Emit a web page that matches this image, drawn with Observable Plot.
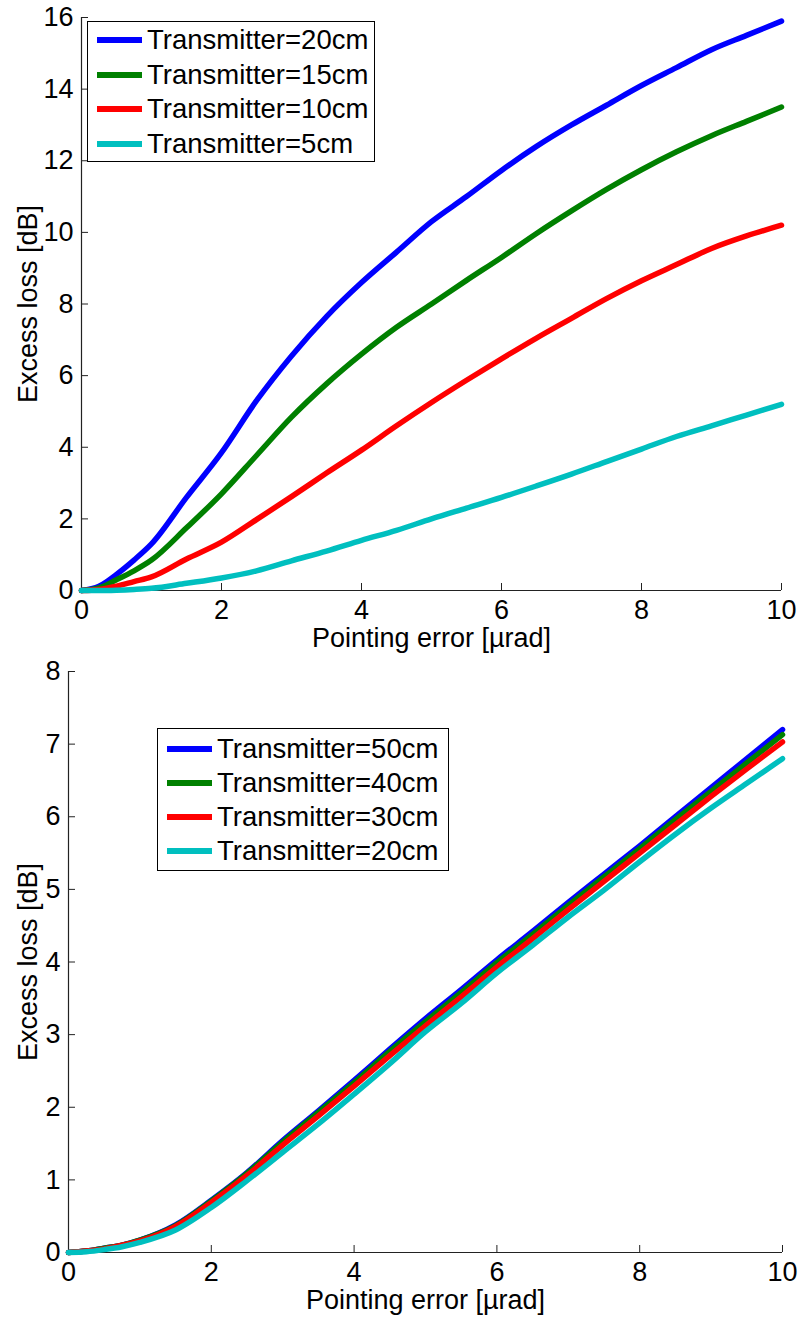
<!DOCTYPE html>
<html>
<head>
<meta charset="utf-8">
<script src="https://cdn.jsdelivr.net/npm/d3@7"></script>
<script src="https://cdn.jsdelivr.net/npm/@observablehq/plot@0.6"></script>
<style>
  body { margin: 0; background: #fff; font-family: "Liberation Sans", Arial, sans-serif; }
  #wrap { position: relative; width: 801px; height: 1318px; }
  .panel { position: absolute; left: 0; }
  .panel svg { overflow: visible; }
  .legend { position: absolute; background: #fff; border: 1.3px solid #000; box-sizing: border-box; }
  .legend .row { position: absolute; left: 0; height: 30px; display: flex; align-items: center; font-size: 27.5px; color: #000; white-space: nowrap; }
  .legend .sw { display: inline-block; width: 45px; height: 6px; margin-left: 9px; margin-right: 5px; }
</style>
</head>
<body>
<div id="wrap"></div>
<script>
// Shared x grid (pointing error, µrad)
const xValues = [0, 0.25, 0.5, 0.75, 1, 1.5, 2, 2.5, 3, 3.5, 4, 4.5, 5, 5.5, 6, 6.5, 7, 7.5, 8, 8.5, 9, 9.5, 10];

// Top panel series (excess loss, dB)
const topNames = ["Transmitter=20cm", "Transmitter=15cm", "Transmitter=10cm", "Transmitter=5cm"];
const top20 = [0, 0.12, 0.45, 0.85, 1.3, 2.6, 3.85, 5.3, 6.55, 7.65, 8.6, 9.45, 10.3, 11.0, 11.73, 12.4, 13.0, 13.55, 14.1, 14.6, 15.1, 15.5, 15.9];
const top15 = [0, 0.07, 0.3, 0.55, 0.85, 1.75, 2.7, 3.77, 4.84, 5.77, 6.6, 7.35, 8.0, 8.66, 9.3, 9.97, 10.6, 11.2, 11.75, 12.25, 12.7, 13.1, 13.5];
const top10 = [0, 0.03, 0.12, 0.25, 0.38, 0.88, 1.35, 1.98, 2.62, 3.28, 3.92, 4.6, 5.25, 5.87, 6.47, 7.05, 7.6, 8.15, 8.65, 9.1, 9.55, 9.9, 10.2];
const top5  = [0, 0, 0.01, 0.03, 0.06, 0.2, 0.35, 0.55, 0.83, 1.1, 1.4, 1.68, 2.0, 2.3, 2.6, 2.92, 3.25, 3.6, 3.95, 4.3, 4.6, 4.9, 5.2];

// Bottom panel series (excess loss, dB)
const botNames = ["Transmitter=50cm", "Transmitter=40cm", "Transmitter=30cm", "Transmitter=20cm"];
const bot50 = [0, 0.02, 0.06, 0.1, 0.17, 0.38, 0.72, 1.1, 1.54, 1.95, 2.37, 2.8, 3.22, 3.62, 4.03, 4.42, 4.82, 5.21, 5.6, 6.0, 6.4, 6.8, 7.2];
const bot40 = [0, 0.02, 0.06, 0.1, 0.17, 0.37, 0.71, 1.09, 1.52, 1.93, 2.34, 2.77, 3.18, 3.58, 3.99, 4.38, 4.78, 5.17, 5.56, 5.96, 6.35, 6.74, 7.13];
const bot30 = [0, 0.02, 0.05, 0.1, 0.16, 0.36, 0.69, 1.06, 1.48, 1.88, 2.29, 2.71, 3.12, 3.52, 3.93, 4.32, 4.72, 5.11, 5.5, 5.89, 6.28, 6.66, 7.03];
const bot20 = [0, 0.01, 0.04, 0.08, 0.14, 0.31, 0.62, 0.99, 1.38, 1.77, 2.18, 2.6, 3.04, 3.43, 3.85, 4.23, 4.62, 4.99, 5.38, 5.76, 6.12, 6.46, 6.8];

const colors = ["#0000ff", "#008000", "#ff0000", "#00bfbf"];
const topTicks = [0, 2, 4, 6, 8, 10, 12, 14, 16];
const botTicks = [0, 1, 2, 3, 4, 5, 6, 7, 8];
const xTicks = [0, 2, 4, 6, 8, 10];

function toRows(names, seriesList) {
  const rows = [];
  seriesList.forEach((s, i) => s.forEach((v, j) => rows.push({series: names[i], x: xValues[j], y: v})));
  return rows;
}

function makePanel(cfg) {
  const rows = toRows(cfg.names, cfg.series);
  const chart = Plot.plot({
    width: 801,
    height: cfg.height,
    marginTop: cfg.mt, marginBottom: cfg.mb, marginLeft: cfg.ml, marginRight: cfg.mr,
    style: {fontFamily: '"Liberation Sans", Arial, sans-serif', fontSize: "27px", color: "#000", background: "#fff", overflow: "visible"},
    x: {domain: [0, 10]},
    y: {domain: cfg.yDomain},
    color: {domain: cfg.names, range: colors},
    marks: [
      Plot.axisX({ticks: xTicks, tickSize: -7, tickPadding: 16, tickFormat: d => String(d), fontSize: 27,
                  label: "Pointing error [µrad]", labelAnchor: "center", labelArrow: "none", labelOffset: 56, stroke: "#222"}),
      Plot.axisY({ticks: cfg.yTicks, tickSize: -7, tickPadding: 15, tickFormat: d => String(d), fontSize: 27,
                  label: "Excess loss [dB]", labelAnchor: "center", labelArrow: "none", labelOffset: cfg.ml - 17, stroke: "#222"}),
      Plot.ruleX([0], {stroke: "#222", strokeWidth: 1.2}),
      Plot.ruleY([cfg.yDomain[0]], {stroke: "#222", strokeWidth: 1.2}),
      Plot.line(rows, {x: "x", y: "y", z: "series", stroke: "series", strokeWidth: 5.5, curve: "monotone-x"})
    ]
  });
  const div = document.createElement("div");
  div.className = "panel";
  div.style.top = cfg.top + "px";
  div.appendChild(chart);
  document.getElementById("wrap").appendChild(div);

  const lg = document.createElement("div");
  lg.className = "legend";
  Object.assign(lg.style, {left: cfg.lg.x + "px", top: (cfg.top + cfg.lg.y) + "px", width: cfg.lg.w + "px", height: cfg.lg.h + "px"});
  cfg.names.forEach((n, i) => {
    const r = document.createElement("div");
    r.className = "row";
    r.style.top = (cfg.lg.first + i * cfg.lg.step - 15) + "px";
    r.innerHTML = `<span class="sw" style="background:${colors[i]}"></span><span>${n}</span>`;
    lg.appendChild(r);
  });
  document.getElementById("wrap").appendChild(lg);
}

makePanel({names: topNames, series: [top20, top15, top10, top5], top: 0, height: 660,
  mt: 17, mb: 70, ml: 81, mr: 20, yDomain: [0, 16], yTicks: topTicks,
  lg: {x: 87, y: 21, w: 288, h: 141, first: 18, step: 34.5}});

makePanel({names: botNames, series: [bot50, bot40, bot30, bot20], top: 660, height: 658,
  mt: 11, mb: 66, ml: 68, mr: 19, yDomain: [0, 8], yTicks: botTicks,
  lg: {x: 157, y: 68, w: 292, h: 143, first: 20, step: 34}});
</script>
</body>
</html>
